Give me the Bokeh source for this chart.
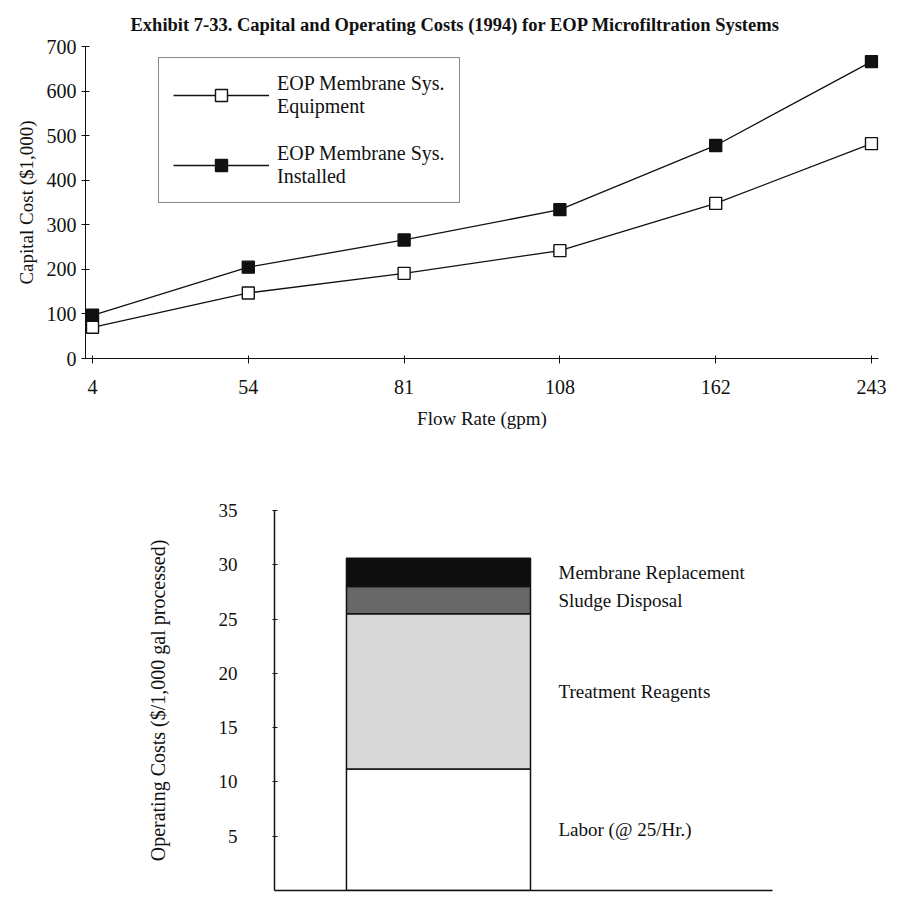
from bokeh.plotting import figure
from bokeh.models import Range1d, FixedTicker, Legend, LegendItem, ColumnDataSource
from bokeh.embed import file_html
from bokeh.resources import INLINE
from bokeh.core.properties import value

# ---------------- data ----------------
flow_rates = ["4", "54", "81", "108", "162", "243"]
equipment = [70, 147, 191, 242, 348, 482]
installed = [97, 205, 266, 334, 478, 666]

cost_categories = ["Labor (@ 25/Hr.)", "Treatment Reagents", "Sludge Disposal", "Membrane Replacement"]
cost_values = [11.2, 14.3, 2.5, 2.6]
cost_colors = ["#ffffff", "#d8d8d8", "#686868", "#0d0d0d"]

y1_ticks = [0, 100, 200, 300, 400, 500, 600, 700]
y2_ticks = [5, 10, 15, 20, 25, 30, 35]

TITLE = "Exhibit 7-33. Capital and Operating Costs (1994) for EOP Microfiltration Systems"
FONT = "Liberation Serif"
INK = "#111111"

# ---------------- top chart ----------------
x_idx = list(range(len(flow_rates)))
pad = 0.045
p1 = figure(width=900, height=445, output_backend="svg", toolbar_location=None,
            x_range=Range1d(-pad, len(flow_rates) - 1 + pad), y_range=Range1d(0, 700),
            min_border_left=85, min_border_right=22, min_border_top=45, min_border_bottom=87)
p1.outline_line_color = None
p1.grid.visible = False

p1.title.text = TITLE
p1.title.text_font = FONT
p1.title.text_font_style = "bold"
p1.title.text_font_size = "18.5px"
p1.title.text_color = INK
p1.title.align = "left"
p1.title.offset = 45
p1.title.standoff = 24

src1 = ColumnDataSource(dict(x=x_idx, equipment=equipment, installed=installed))
l_eq = p1.line("x", "equipment", source=src1, line_color=INK, line_width=1.3)
s_eq = p1.scatter("x", "equipment", source=src1, marker="square", size=12,
                  fill_color="white", line_color=INK, line_width=1.4)
l_in = p1.line("x", "installed", source=src1, line_color=INK, line_width=1.3)
s_in = p1.scatter("x", "installed", source=src1, marker="square", size=12,
                  fill_color=INK, line_color=INK, line_width=1.4)

xa = p1.xaxis[0]
xa.ticker = FixedTicker(ticks=x_idx)
xa.major_label_overrides = {i: s for i, s in enumerate(flow_rates)}
xa.axis_label = "Flow Rate (gpm)"
ya = p1.yaxis[0]
ya.ticker = FixedTicker(ticks=y1_ticks)
ya.axis_label = "Capital Cost ($1,000)"
for ax in (xa, ya):
    ax.axis_line_color = INK
    ax.axis_line_width = 1
    ax.major_tick_line_color = INK
    ax.minor_tick_line_color = None
    ax.major_label_text_font = FONT
    ax.major_label_text_font_size = "20px"
    ax.major_label_text_color = INK
    ax.axis_label_text_font = FONT
    ax.axis_label_text_font_size = "19px"
    ax.axis_label_text_font_style = "normal"
    ax.axis_label_text_color = INK
xa.major_tick_in = 3
xa.major_tick_out = 5
xa.major_label_standoff = 16
xa.axis_label_standoff = 11
ya.major_tick_in = 4
ya.major_tick_out = 4
ya.major_label_standoff = 5
ya.axis_label_standoff = 7

legend = Legend(items=[
    LegendItem(label="EOP Membrane Sys.\nEquipment", renderers=[l_eq, s_eq]),
    LegendItem(label="EOP Membrane Sys.\nInstalled", renderers=[l_in, s_in]),
], location=(73, 155))
legend.margin = 0
legend.padding = 14
legend.spacing = 24
legend.glyph_width = 96
legend.glyph_height = 30
legend.label_standoff = 8
legend.label_text_font = FONT
legend.label_text_font_size = "20px"
legend.label_text_color = INK
legend.label_text_line_height = 1.1
legend.border_line_color = INK
legend.border_line_width = 1
legend.background_fill_alpha = 1
p1.add_layout(legend)

# ---------------- bottom chart ----------------
bottoms, tops, acc = [], [], 0.0
for v in cost_values:
    bottoms.append(acc)
    acc += v
    tops.append(acc)
mids = [(b + t) / 2 for b, t in zip(bottoms, tops)]

p2 = figure(width=900, height=456, output_backend="svg", toolbar_location=None,
            x_range=Range1d(-0.891, 1.815), y_range=Range1d(0, 35),
            min_border_left=274, min_border_right=128, min_border_top=65, min_border_bottom=11)
p2.outline_line_color = None
p2.grid.visible = False

src2 = ColumnDataSource(dict(x=[0] * len(cost_values), bottom=bottoms, top=tops,
                             color=cost_colors, mid=mids, label=cost_categories,
                             lx=[0.5] * len(cost_values)))
p2.vbar(x="x", width=1, bottom="bottom", top="top", source=src2,
        fill_color="color", line_color=INK, line_width=1.5)
p2.text(x="lx", y="mid", text="label", source=src2, x_offset=28,
        text_align="left", text_baseline="middle", text_color=INK,
        text_font=value(FONT), text_font_size="19px")

xb = p2.xaxis[0]
xb.ticker = FixedTicker(ticks=[])
xb.major_tick_out = 0
xb.major_tick_in = 0
xb.major_label_standoff = 0
xb.major_label_text_font_size = "0px"
xb.axis_line_color = INK
xb.axis_line_width = 1.5

yb = p2.yaxis[0]
yb.ticker = FixedTicker(ticks=y2_ticks)
yb.axis_label = "Operating Costs ($/1,000 gal processed)"
yb.axis_line_color = INK
yb.axis_line_width = 1.5
yb.major_tick_line_color = INK
yb.major_tick_in = 3
yb.major_tick_out = 2
yb.minor_tick_line_color = None
yb.major_label_standoff = 35
yb.major_label_text_font = FONT
yb.major_label_text_font_size = "19px"
yb.major_label_text_color = INK
yb.axis_label_text_font = FONT
yb.axis_label_text_font_size = "20px"
yb.axis_label_text_font_style = "normal"
yb.axis_label_text_color = INK
yb.axis_label_standoff = 47

open("out.html", "w").write(file_html([p1, p2], INLINE))
